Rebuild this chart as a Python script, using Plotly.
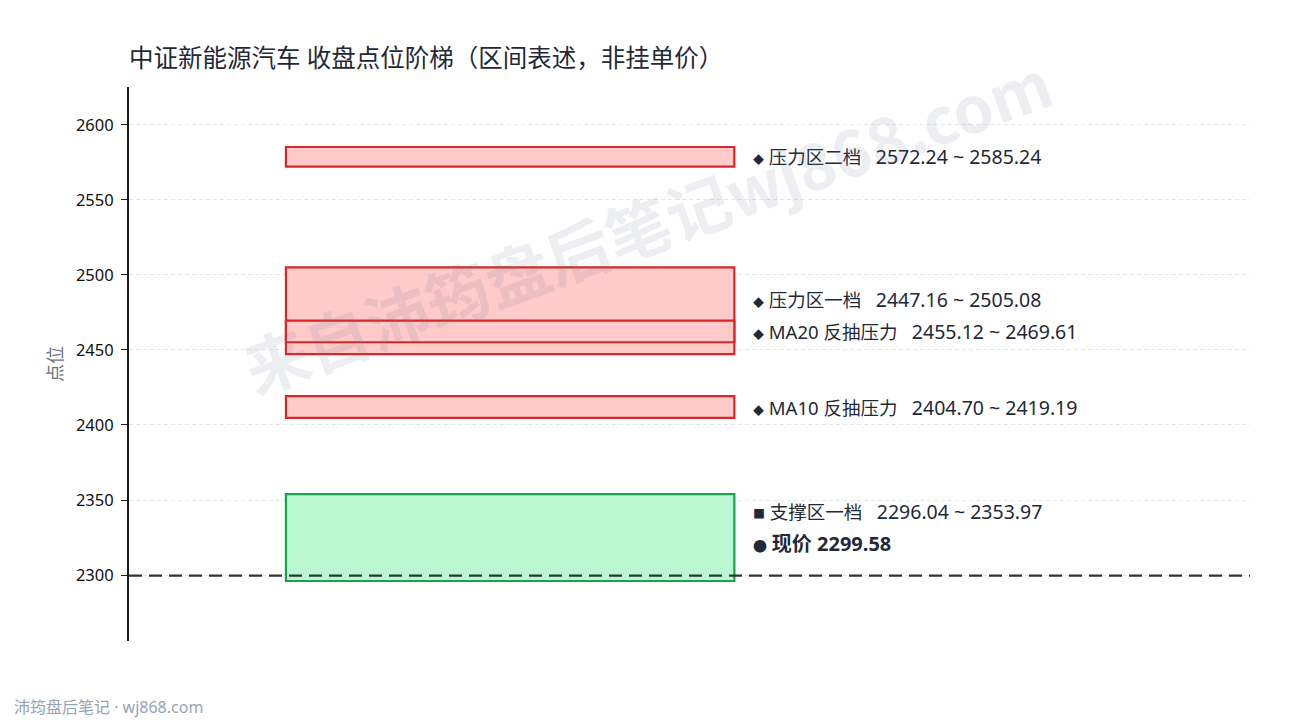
import plotly.graph_objects as go

# 区间数据（点位）
zone_names = ['压力区二档', '压力区一档', 'MA20 反抽压力', 'MA10 反抽压力', '支撑区一档']
zone_lows = [2572.24, 2447.16, 2455.12, 2404.70, 2296.04]
zone_highs = [2585.24, 2505.08, 2469.61, 2419.19, 2353.97]
zone_kinds = ['resist', 'resist', 'resist', 'resist', 'support']
current_price = 2299.58

y_ticks = [2300, 2350, 2400, 2450, 2500, 2550, 2600]

FONT = 'Noto Sans, Noto Sans CJK SC'
TEXT_COLOR = '#1f2937'
styles = {
    'resist': dict(fill='#fecaca', line='#dc2626', mark='◆', size=11),
    'support': dict(fill='#bbf7d0', line='#16a34a', mark='■', size=12),
}

fig = go.Figure()

pad = 40
y_min = min(zone_lows) - pad
y_max = max(zone_highs) + pad

for name, lo, hi, kind in zip(zone_names, zone_lows, zone_highs, zone_kinds):
    st = styles[kind]
    fig.add_shape(type='rect', xref='x', yref='y', x0=0.14, x1=0.54, y0=lo, y1=hi,
                  fillcolor=st['fill'], line=dict(color=st['line'], width=2.2), layer='above')

# 现价虚线
fig.add_shape(type='line', xref='paper', yref='y', x0=0, x1=1,
              y0=current_price, y1=current_price,
              line=dict(color='#2b3340', width=2.2, dash='13px,7px'), layer='above')

# 标签位置：区间中点，太近时往上推
gap = 21.5
labels = [(current_price + gap,
           '<span style="font-size:14px">●</span> <b><span style="font-size:20px">现价 %.2f</span></b>'
           % current_price)]
for name, lo, hi, kind in zip(zone_names, zone_lows, zone_highs, zone_kinds):
    st = styles[kind]
    text = ('<span style="font-size:%dpx">%s</span> %s&nbsp;&nbsp;&nbsp;'
            '<span style="font-size:19.5px">%.2f ~ %.2f</span>') % (st['size'], st['mark'], name, lo, hi)
    labels.append(((lo + hi) / 2, text))
labels.sort(key=lambda t: t[0])
placed = []
for y, text in labels:
    if placed and y < placed[-1][0] + gap:
        y = placed[-1][0] + gap
    placed.append((y, text))

for y, text in placed:
    fig.add_annotation(x=0.555, y=y, xref='x', yref='y', text=text, showarrow=False,
                       xanchor='left', yanchor='middle',
                       font=dict(family=FONT, size=18.5, color=TEXT_COLOR))

# 水印
fig.add_annotation(x=0.462, y=0.755, xref='paper', yref='paper',
                   xanchor='center', yanchor='middle',
                   text='<b>来自沛筠盘后笔记wj868.com</b>', showarrow=False,
                   textangle=-20,
                   font=dict(family='Noto Sans CJK SC', size=64, color='rgba(100,116,139,0.12)'))

# y 轴标题
fig.add_annotation(x=-0.066, y=0.5, xref='paper', yref='paper',
                   xanchor='center', yanchor='middle', text='点位', showarrow=False,
                   textangle=-90, font=dict(family=FONT, size=18, color='#6b7280'))

# 页脚
fig.add_annotation(x=-0.1044, y=-0.119, xref='paper', yref='paper',
                   xanchor='left', yanchor='middle',
                   text='沛筠盘后笔记 · wj868.com', showarrow=False,
                   font=dict(family=FONT, size=16, color='#94a3b8'))

# 页面 body 自带 8px 边距，图整体缩 8px
fig.update_layout(
    width=1282, height=712,
    margin=dict(l=121, r=40, t=79, b=79),
    paper_bgcolor='white', plot_bgcolor='white',
    title=dict(text='中证新能源汽车 收盘点位阶梯（区间表述，非挂单价）',
               xref='paper', x=0, xanchor='left', y=0.9298, yanchor='middle',
               font=dict(family=FONT, size=24.5, color=TEXT_COLOR)),
    showlegend=False,
    font=dict(family=FONT),
    xaxis=dict(range=[0, 1], visible=False, fixedrange=True),
    yaxis=dict(range=[y_min, y_max], tickvals=y_ticks, zeroline=False, automargin=False,
               showline=True, linecolor='#1a1a1a', linewidth=2,
               ticks='outside', ticklen=6, tickcolor='#1a1a1a', ticklabelstandoff=4,
               tickfont=dict(family='Noto Sans', size=16.5, color='#111111'),
               showgrid=True, gridcolor='#e3e6ea', griddash='4px,3px', gridwidth=1),
)

fig.write_html('out.html')
